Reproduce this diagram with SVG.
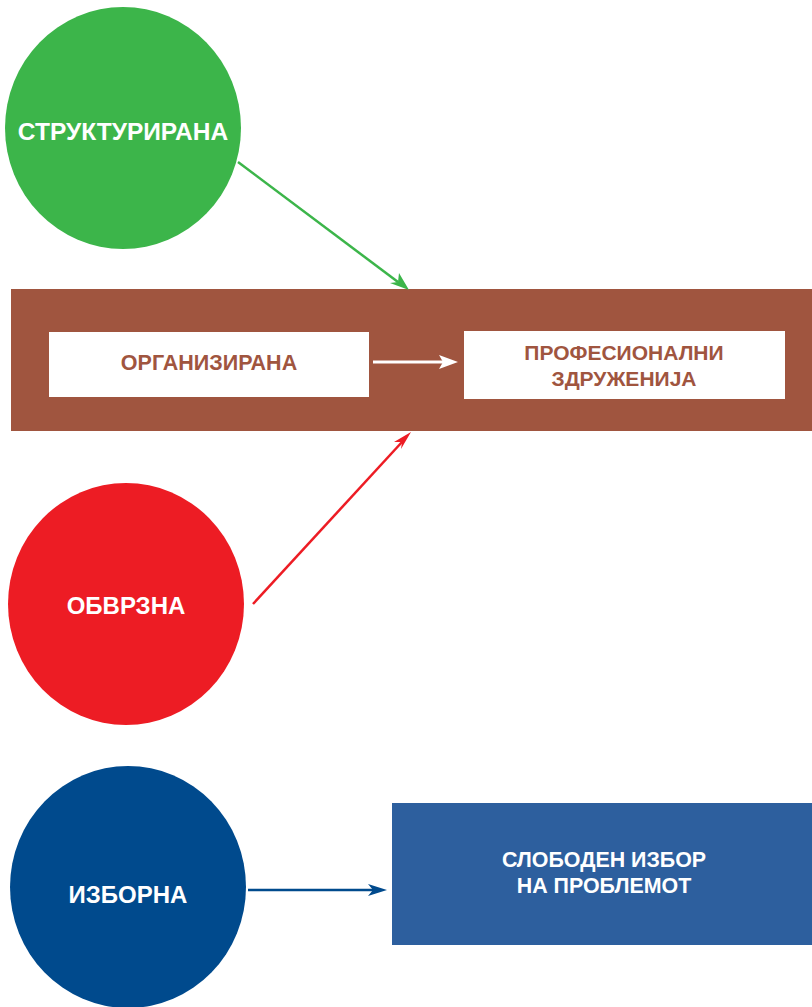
<svg xmlns="http://www.w3.org/2000/svg" width="812" height="1007" viewBox="0 0 812 1007">
<style>
.ct{font-family:"Liberation Sans",Arial,sans-serif;font-weight:bold;fill:#fff;text-anchor:middle}
.bt{font-family:"Liberation Sans",Arial,sans-serif;font-weight:bold;fill:#a0553f;text-anchor:middle}
</style>
<rect width="812" height="1007" fill="#fff"/>
<g id="band">
<rect x="11" y="289" width="801" height="142" fill="#a0553f"/>
</g>
<g id="organizirana">
<rect x="49" y="332" width="320" height="65" fill="#fff"/>
<text class="bt" x="209" y="370" font-size="21.5">ОРГАНИЗИРАНА</text>
</g>
<g id="profesionalni">
<rect x="464" y="331" width="321" height="68" fill="#fff"/>
<text class="bt" x="624" y="360" font-size="21">ПРОФЕСИОНАЛНИ</text>
<text class="bt" x="624" y="386" font-size="21">ЗДРУЖЕНИЈА</text>
</g>
<g id="strukturirana">
<ellipse cx="123" cy="128" rx="118" ry="121" fill="#3cb54a"/>
<text class="ct" x="123" y="140" font-size="24.5">СТРУКТУРИРАНА</text>
</g>
<g id="obvrzna">
<ellipse cx="126" cy="604" rx="118" ry="121" fill="#ed1c24"/>
<text class="ct" x="126" y="614" font-size="24">ОБВРЗНА</text>
</g>
<g id="izborna">
<ellipse cx="128" cy="887" rx="118" ry="121" fill="#004a8d"/>
<text class="ct" x="128" y="903" font-size="24">ИЗБОРНА</text>
</g>
<g id="sloboden">
<rect x="392" y="803" width="420" height="142" fill="#2d5f9e"/>
<text class="ct" x="604" y="867" font-size="21.4">СЛОБОДЕН ИЗБОР</text>
<text class="ct" x="604" y="893" font-size="21.4">НА ПРОБЛЕМОТ</text>
</g>
<g id="connectors" stroke-width="2.5" fill="none">
<line x1="238" y1="162" x2="398" y2="282" stroke="#3cb54a"/>
<path d="M409,290 L390,283 L398,282 L399,273 Z" fill="#3cb54a"/>
<line x1="253" y1="604" x2="402" y2="442" stroke="#ed1c24"/>
<path d="M411,432 L401,449 L402,442 L394,442 Z" fill="#ed1c24"/>
<line x1="373" y1="362" x2="446" y2="362" stroke="#fff" stroke-width="3"/>
<path d="M458,362 L439,355 L443,362 L439,369 Z" fill="#fff"/>
<line x1="248" y1="890" x2="376" y2="890" stroke="#004a8d"/>
<path d="M387,890 L368,884 L373,890 L368,896 Z" fill="#004a8d"/>
</g>
</svg>
